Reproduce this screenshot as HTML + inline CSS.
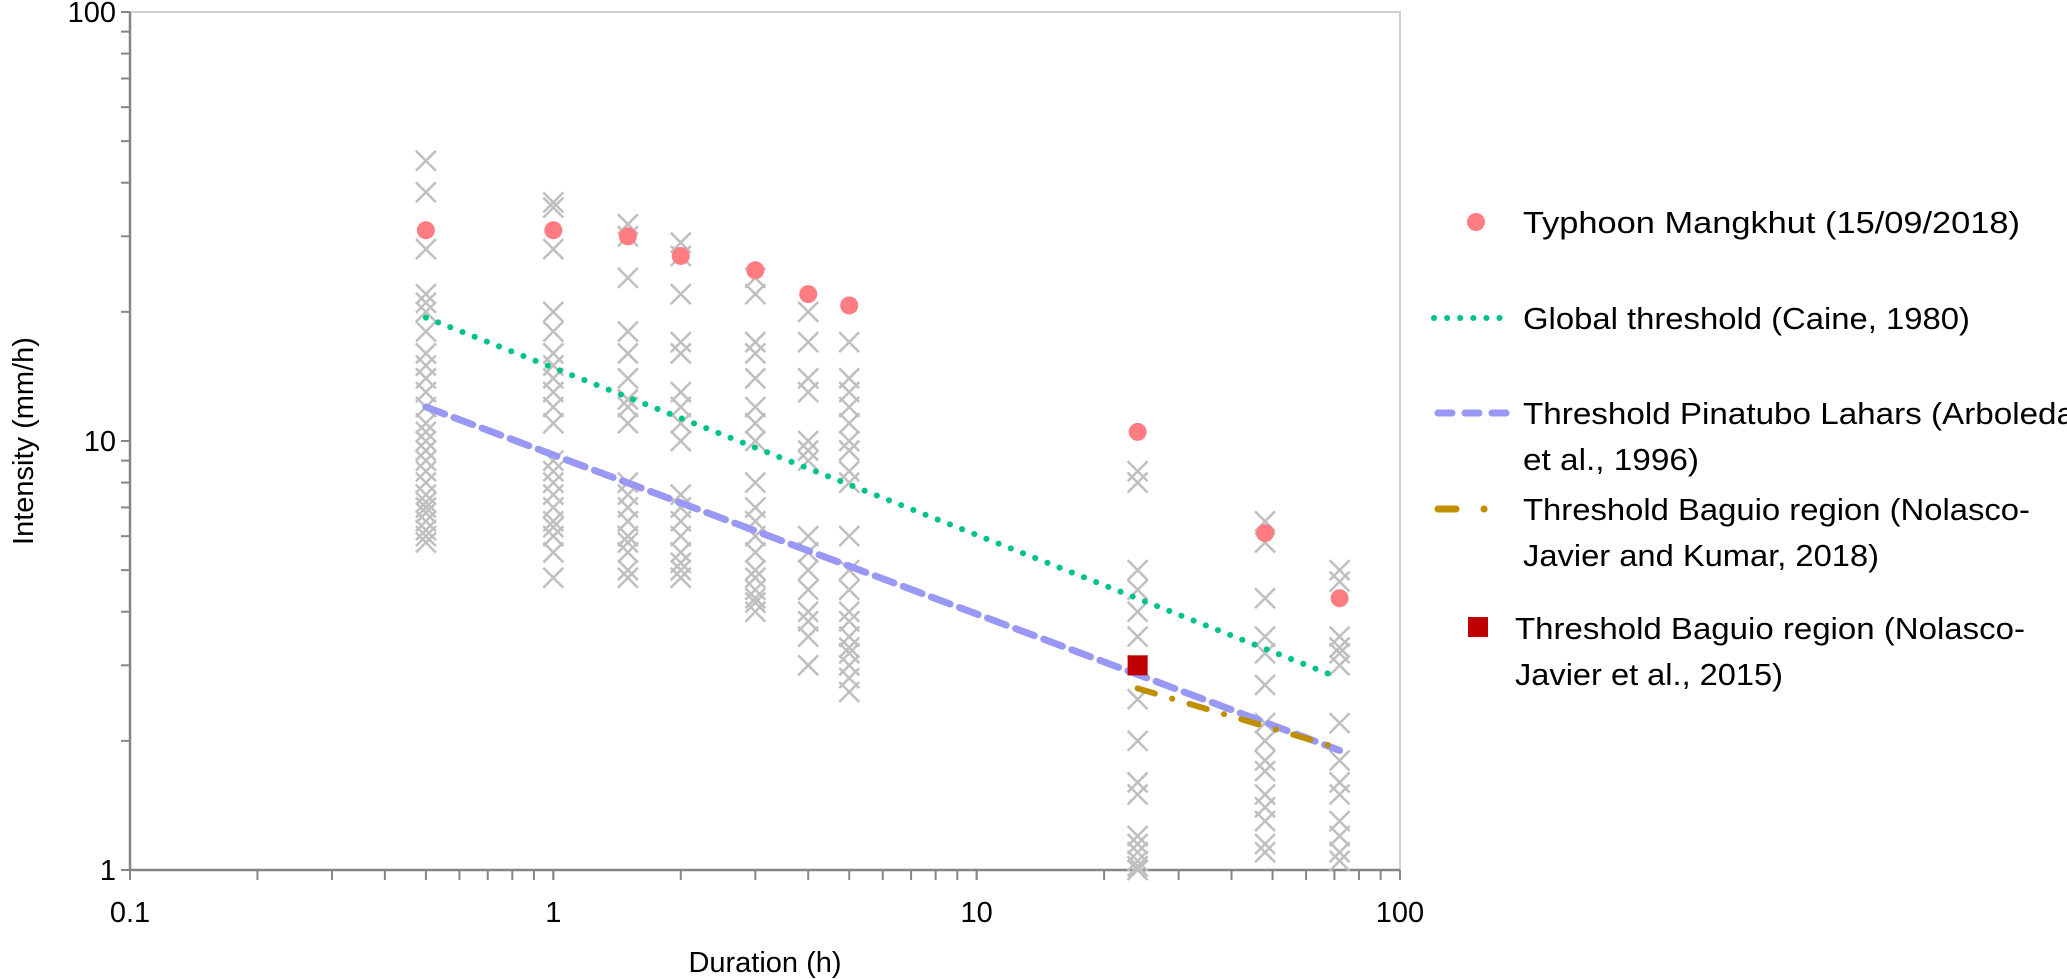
<!DOCTYPE html>
<html><head><meta charset="utf-8"><style>
html,body{margin:0;padding:0;background:#fff;}
svg{display:block;font-family:"Liberation Sans",sans-serif;}
</style></head><body>
<svg id="chart" width="2067" height="979" viewBox="0 0 2067 979" xmlns="http://www.w3.org/2000/svg">
<g id="grid"></g><g id="axes"></g><g id="marks"></g><g id="legend"></g>
</svg>
<script>
const durations = [0.5, 1, 1.5, 2, 3, 4, 5, 24, 48, 72];
const eventIntensities = [
 [45,38,28,22,21,20,18,16,15,14,13,12,11,10.5,10,9.5,9,8.5,8,7.5,7.2,7,6.8,6.5,6.2,6,5.8],
 [36,35,28,20,18,16,15,14,13,12,11,9,8.5,8,7.5,7,6.5,6.3,6,5.5,4.8],
 [32,30,24,18,16,14,12.5,12,11,8,7.5,7,6.5,6,5.8,5.5,5,4.8],
 [29,27,22,17,16,13,12,11,10,7.5,7,6.5,6,5.5,5.2,5,4.8],
 [24,22,17,16,14,12,11,10,8,7,6.5,6,5.5,5,4.8,4.5,4.3,4.2,4],
 [20,17,14,13,10,9.5,9,6,5.5,5,4.5,4,3.8,3.5,3],
 [17,14,13,12,11,10,9.5,8.5,8,6,5,4.5,4,3.8,3.5,3.3,3.2,3,2.8,2.6],
 [8.5,8,5,4.5,4,3.5,3,2.5,2,1.6,1.5,1.2,1.15,1.1,1.05,1.02,1],
 [6.5,5.8,4.3,3.5,3.2,2.7,2.2,2,1.8,1.7,1.5,1.4,1.3,1.15,1.1],
 [5,4.7,3.5,3.3,3.2,3,2.2,1.8,1.6,1.5,1.3,1.2,1.1,1.05]
];
const mangkhutIntensity = [31, 31, 30, 27, 25, 22, 20.7, 10.5, 6.1, 4.3];
const caineDur = [0.5, 72]; const caineInt = [19.4, 2.8];
const arboledaDur = [0.5, 72]; const arboledaInt = [12.0, 1.9];
const baguio2018Dur = [24, 72]; const baguio2018Int = [2.65, 1.92];
const baguio2015Dur = [24]; const baguio2015Int = [3];
const xTicks = [0.1, 1, 10, 100]; const xTickLabels = ["0.1","1","10","100"];
const yTicks = [1, 10, 100]; const yTickLabels = ["1","10","100"];

const NS="http://www.w3.org/2000/svg";
const X0=130,X1=1400,Y0=870,Y1=12;
const xs=v=>X0+(Math.log10(v)+1)/3*(X1-X0);
const ys=v=>Y0-Math.log10(v)/2*(Y0-Y1);
function mk(tag,attrs,parent){const e=document.createElementNS(NS,tag);for(const k in attrs)e.setAttribute(k,attrs[k]);parent.appendChild(e);return e;}
const axes=document.getElementById('axes'),marks=document.getElementById('marks'),legend=document.getElementById('legend');

// plot border
let b=mk('path',{d:`M${X0} ${Y1}H${X1}V${Y0}`,fill:'none',stroke:'#d0d0d0','stroke-width':2},axes);


let ax=mk('line',{x1:X0,y1:Y0,x2:X1,y2:Y0,stroke:'#868686','stroke-width':2.5},axes);


let ay=mk('line',{x1:X0,y1:Y1,x2:X0,y2:Y0,stroke:'#868686','stroke-width':2.5},axes);


// minor/major ticks
for(let d=0.1;d<100;d*=10){for(let m=1;m<=10;m++){const v=d*m;const x=xs(v);
 let t=mk('line',{x1:x,y1:Y0,x2:x,y2:Y0+10,stroke:'#868686','stroke-width':2},axes);
 
 }}
for(let d=1;d<100;d*=10){for(let m=1;m<=10;m++){const v=d*m;const y=ys(v);
 let t=mk('line',{x1:X0-9,y1:y,x2:X0,y2:y,stroke:'#868686','stroke-width':2},axes);
 
 }}
xTicks.forEach((v,i)=>{let t=mk('text',{x:xs(v),y:922,'text-anchor':'middle','font-size':29,fill:'#000'},axes);t.textContent=xTickLabels[i];
 
 });
yTicks.forEach((v,i)=>{let t=mk('text',{x:X0-14,y:ys(v)+10,'text-anchor':'end','font-size':29,fill:'#000'},axes);t.textContent=yTickLabels[i];
 
 });
let xt=mk('text',{x:765,y:972,'text-anchor':'middle','font-size':29},axes);xt.textContent='Duration (h)';


let yt=mk('text',{x:0,y:0,'text-anchor':'middle','font-size':29,transform:`translate(33,441) rotate(-90)`},axes);yt.textContent='Intensity (mm/h)';



// gray X markers
durations.forEach((d,i)=>{eventIntensities[i].forEach(v=>{const x=xs(d),y=ys(v),r=10;
 let p=mk('path',{d:`M${x-r} ${y-r}L${x+r} ${y+r}M${x-r} ${y+r}L${x+r} ${y-r}`,stroke:'#bfbfbf','stroke-width':2.5,fill:'none'},marks);
 
 });});
// threshold lines
function line(dd,vv,style,name){let l=mk('path',Object.assign({d:'M'+dd.map((d,i)=>xs(d)+' '+ys(vv[i])).join('L'),fill:'none'},style),marks);
 
 }
line(caineDur,caineInt,{stroke:'#00c28a','stroke-width':6,'stroke-dasharray':'0.1 13','stroke-linecap':'round'},'global-threshold-line');
line(arboledaDur,arboledaInt,{stroke:'#9999f5','stroke-width':7,'stroke-dasharray':'20 10','stroke-linecap':'round'},'pinatubo-threshold-line');
line(baguio2018Dur,baguio2018Int,{stroke:'#bf8f00','stroke-width':6,'stroke-dasharray':'18 18 0.1 18','stroke-linecap':'round'},'baguio-2018-threshold-line');
mangkhutIntensity.forEach((v,i)=>{let c=mk('circle',{cx:xs(durations[i]),cy:ys(v),r:9,fill:'#ff7c80'},marks);
 
 });
baguio2015Dur.forEach((d,i)=>{let s=mk('rect',{x:xs(d)-10,y:ys(baguio2015Int[i])-10,width:20,height:20,fill:'#c00000'},marks);
 
 });

// legend
function ltext(x,y,str,w){let t=mk('text',{x:x,y:y,'font-size':31,fill:'#000'},legend);t.textContent=str;if(w){t.setAttribute('textLength',w);t.setAttribute('lengthAdjust','spacingAndGlyphs');}
 
 return t;}
let lc=mk('circle',{cx:1476,cy:222,r:9,fill:'#ff7c80'},legend);


ltext(1523,233,'Typhoon Mangkhut (15/09/2018)',497);
let l1=mk('line',{x1:1434,y1:318,x2:1508,y2:318,stroke:'#00c28a','stroke-width':6,'stroke-dasharray':'0.1 13','stroke-linecap':'round'},legend);


ltext(1523,329,'Global threshold (Caine, 1980)',447);
let l2=mk('line',{x1:1438,y1:413,x2:1506,y2:413,stroke:'#9999f5','stroke-width':7,'stroke-dasharray':'14 13','stroke-linecap':'round'},legend);


ltext(1523,424,'Threshold Pinatubo Lahars (Arboleda',552);
ltext(1523,470,'et al., 1996)',176);
let l3=mk('path',{d:'M1438 509H1456M1484 509H1484.1',stroke:'#bf8f00','stroke-width':7,'stroke-linecap':'round'},legend);


ltext(1523,520,'Threshold Baguio region (Nolasco-',507);
ltext(1523,566,'Javier and Kumar, 2018)',356);
let l4=mk('rect',{x:1468,y:617,width:20,height:20,fill:'#c00000'},legend);


ltext(1515,639,'Threshold Baguio region (Nolasco-',510);
ltext(1515,685,'Javier et al., 2015)',268);
</script>
</body></html>
